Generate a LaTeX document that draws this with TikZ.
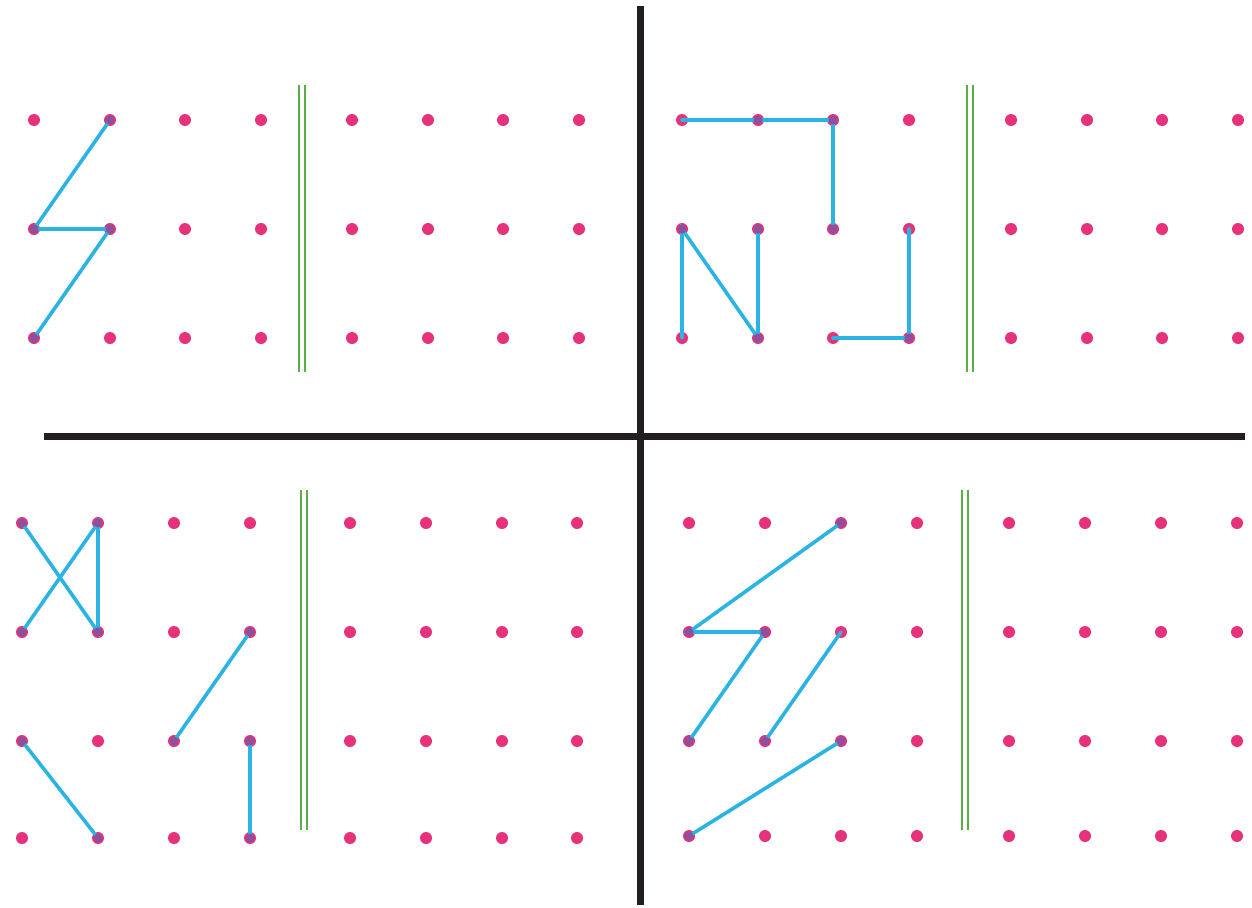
\documentclass[tikz,border=0pt]{standalone}
\definecolor{dotpink}{HTML}{E6327A}
\definecolor{dotpurple}{HTML}{8E4F9C}
\definecolor{linkblue}{HTML}{2BB3E3}
\definecolor{railgreen}{HTML}{5AAE48}
\definecolor{axisblack}{HTML}{231F20}
\tikzset{
  dot/.style={circle,fill=dotpink,inner sep=0pt,minimum size=12pt},
  link/.style={draw=linkblue,line width=3.6pt,line cap=round},
  rail/.style={draw=railgreen,line width=2.4pt,double=white,double distance=4pt},
  axis/.style={draw=axisblack,line width=7pt},
  hit/.style={fill=dotpurple}
}
\begin{document}
\begin{tikzpicture}[x=1pt,y=-1pt]
\useasboundingbox (0,0) rectangle (1252,907);
% axes
\coordinate (vtop) at (640,6);
\coordinate (vbot) at (640,905);
\coordinate (hl) at (44,436);
\coordinate (hr) at (1245,436);
\draw[axis] (vtop) -- (vbot);
\draw[axis] (hl) -- (hr);
% rails
\coordinate (ra1) at (302,85);  \coordinate (ra2) at (302,372);
\coordinate (rb1) at (970,85);  \coordinate (rb2) at (970,372);
\coordinate (rc1) at (304,490); \coordinate (rc2) at (304,830);
\coordinate (rd1) at (965,490); \coordinate (rd2) at (965,830);
\draw[rail] (ra1) -- (ra2);
\draw[rail] (rb1) -- (rb2);
\draw[rail] (rc1) -- (rc2);
\draw[rail] (rd1) -- (rd2);
% dots
\foreach \x [count=\i] in {34,110,185,261,352,428,503,579}
  \foreach \y [count=\j] in {120,229,338}
    \node[dot] (A\i-\j) at (\x,\y) {};
\foreach \x [count=\i] in {682,758,833,909,1011,1087,1162,1238}
  \foreach \y [count=\j] in {120,229,338}
    \node[dot] (B\i-\j) at (\x,\y) {};
\foreach \x [count=\i] in {22,98,174,250,350,426,502,577}
  \foreach \y [count=\j] in {523,632,741,838}
    \node[dot] (C\i-\j) at (\x,\y) {};
\foreach \x [count=\i] in {689,765,841,917,1009,1085,1161,1237}
  \foreach \y [count=\j] in {523,632,741,836}
    \node[dot] (D\i-\j) at (\x,\y) {};
% links
\draw[link] (A2-1.center) -- (A1-2.center) -- (A2-2.center) -- (A1-3.center);
\draw[link] (B1-1.center) -- (B2-1.center) -- (B3-1.center) -- (B3-2.center);
\draw[link] (B1-3.center) -- (B1-2.center) -- (B2-3.center) -- (B2-2.center);
\draw[link] (B4-2.center) -- (B4-3.center) -- (B3-3.center);
\draw[link] (C1-1.center) -- (C2-2.center) -- (C2-1.center) -- (C1-2.center);
\draw[link] (C4-2.center) -- (C3-3.center);
\draw[link] (C1-3.center) -- (C2-4.center);
\draw[link] (C4-3.center) -- (C4-4.center);
\draw[link] (D3-1.center) -- (D1-2.center) -- (D2-2.center) -- (D1-3.center);
\draw[link] (D3-2.center) -- (D2-3.center);
\draw[link] (D3-3.center) -- (D1-4.center);
% endpoints tinted
\foreach \n in {A2-1,A1-2,A2-2,A1-3,B2-1,B3-1,B3-2,B2-3,B2-2,B1-2,B4-3,C1-1,C2-2,C1-2,C2-1,C4-2,C3-3,C1-3,C2-4,C4-3,C4-4,D3-1,D1-2,D2-2,D1-3,D2-3,D3-3,D1-4}
  \fill[hit] (\n.center) circle (4.5pt);
\end{tikzpicture}
\end{document}
